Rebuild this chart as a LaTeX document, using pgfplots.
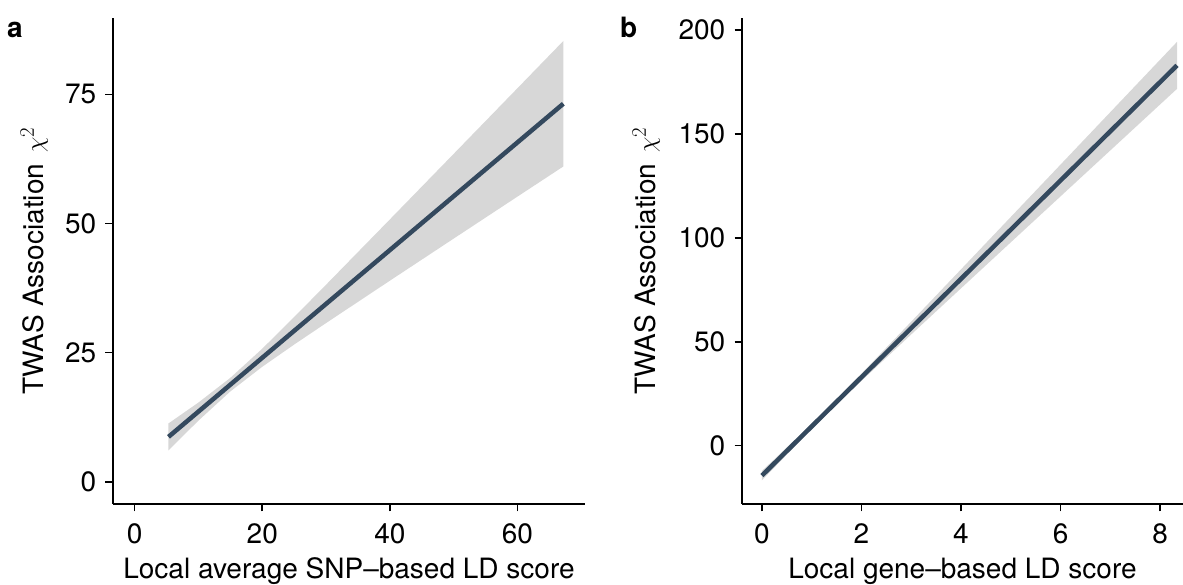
\documentclass[border=0pt]{standalone}
\usepackage{fontspec}
\setmainfont{TeX Gyre Heros}
\usepackage{pgfplots}
\pgfplotsset{compat=1.18}
\definecolor{fitline}{RGB}{52,73,94}
\definecolor{ribbon}{RGB}{215,215,215}
\pgfplotsset{
  panel/.style={
    scale only axis,
    axis lines=left,
    axis line style={-, line width=1.6pt},
    every tick/.style={black, line width=1.6pt},
    tick align=outside,
    major tick length=7.5pt,
    /pgf/number format/assume math mode=true,
    tick label style={font=\fontsize{28}{34}\selectfont},
    xticklabel style={anchor=north, inner sep=0pt, yshift=-11.5pt},
    yticklabel style={anchor=east, inner sep=0pt, xshift=-9pt},
    every axis x label/.style={at={(axis description cs:0.5,0)}, anchor=base, yshift=-74.5pt, font=\fontsize{28}{34}\selectfont, inner sep=0pt},
  }
}
\begin{document}
\begin{tikzpicture}
\useasboundingbox (0,0) rectangle (1183pt,585pt);
% ---------- panel a ----------
\begin{axis}[panel,
  at={(113pt,81pt)}, anchor=south west,
  width=472pt, height=486pt,
  xmin=-3.4, xmax=70.6, ymin=-4.3, ymax=89.8,
  xtick={0,20,40,60}, ytick={0,25,50,75},
  xlabel={Local average SNP\textendash based LD score},
  ylabel={TWAS Association\hspace{0.4em}$\chi^{2}$},
  every axis y label/.style={at={(axis description cs:-0.1483,0.5)}, rotate=90, anchor=base, font=\fontsize{28}{34}\selectfont, inner sep=0pt},
]
\addplot[fill=ribbon, draw=none] coordinates {
 (5.3,11.30) (10,15.35) (15,20.13) (20,25.77) (25,31.89) (30,38.15) (40,50.79) (50,63.48) (60,76.19) (67.2,85.35)
 (67.2,61.05) (60,55.21) (50,47.08) (40,38.93) (30,30.73) (25,26.57) (20,22.27) (15,17.50) (10,11.85) (5.3,6.10)
} -- cycle;
\addplot[fitline, line width=4.5pt] coordinates {(5.3,8.70) (67.2,73.20)};
\end{axis}
% ---------- panel b ----------
\begin{axis}[panel,
  at={(742pt,81pt)}, anchor=south west,
  width=441pt, height=486pt,
  xmin=-0.40, xmax=8.46, ymin=-28.06, ymax=205.8,
  xtick={0,2,4,6,8}, ytick={0,50,100,150,200},
  xlabel={Local gene\textendash based LD score},
  ylabel={TWAS Association\hspace{0.4em}$\chi^{2}$},
  every axis y label/.style={at={(axis description cs:-0.1973,0.5)}, rotate=90, anchor=base, font=\fontsize{28}{34}\selectfont, inner sep=0pt},
]
\addplot[fill=ribbon, draw=none] coordinates {
 (0,-12.16) (1,10.51) (2,34.68) (3,59.69) (4,84.85) (5,110.05) (6,135.27) (7,160.50) (8,185.73) (8.34,194.31)
 (8.34,171.71) (8,164.19) (7,142.08) (6,119.97) (5,97.85) (4,75.71) (3,53.53) (2,31.20) (1,8.03) (0,-16.64)
} -- cycle;
\addplot[fitline, line width=4.5pt] coordinates {(0,-14.4) (8.34,183.01)};
\end{axis}
\node[font=\fontsize{28}{34}\selectfont\bfseries, anchor=base west, inner sep=0pt] at (7pt,547pt) {a};
\node[font=\fontsize{28}{34}\selectfont\bfseries, anchor=base west, inner sep=0pt] at (620pt,547pt) {b};
\end{tikzpicture}
\end{document}
